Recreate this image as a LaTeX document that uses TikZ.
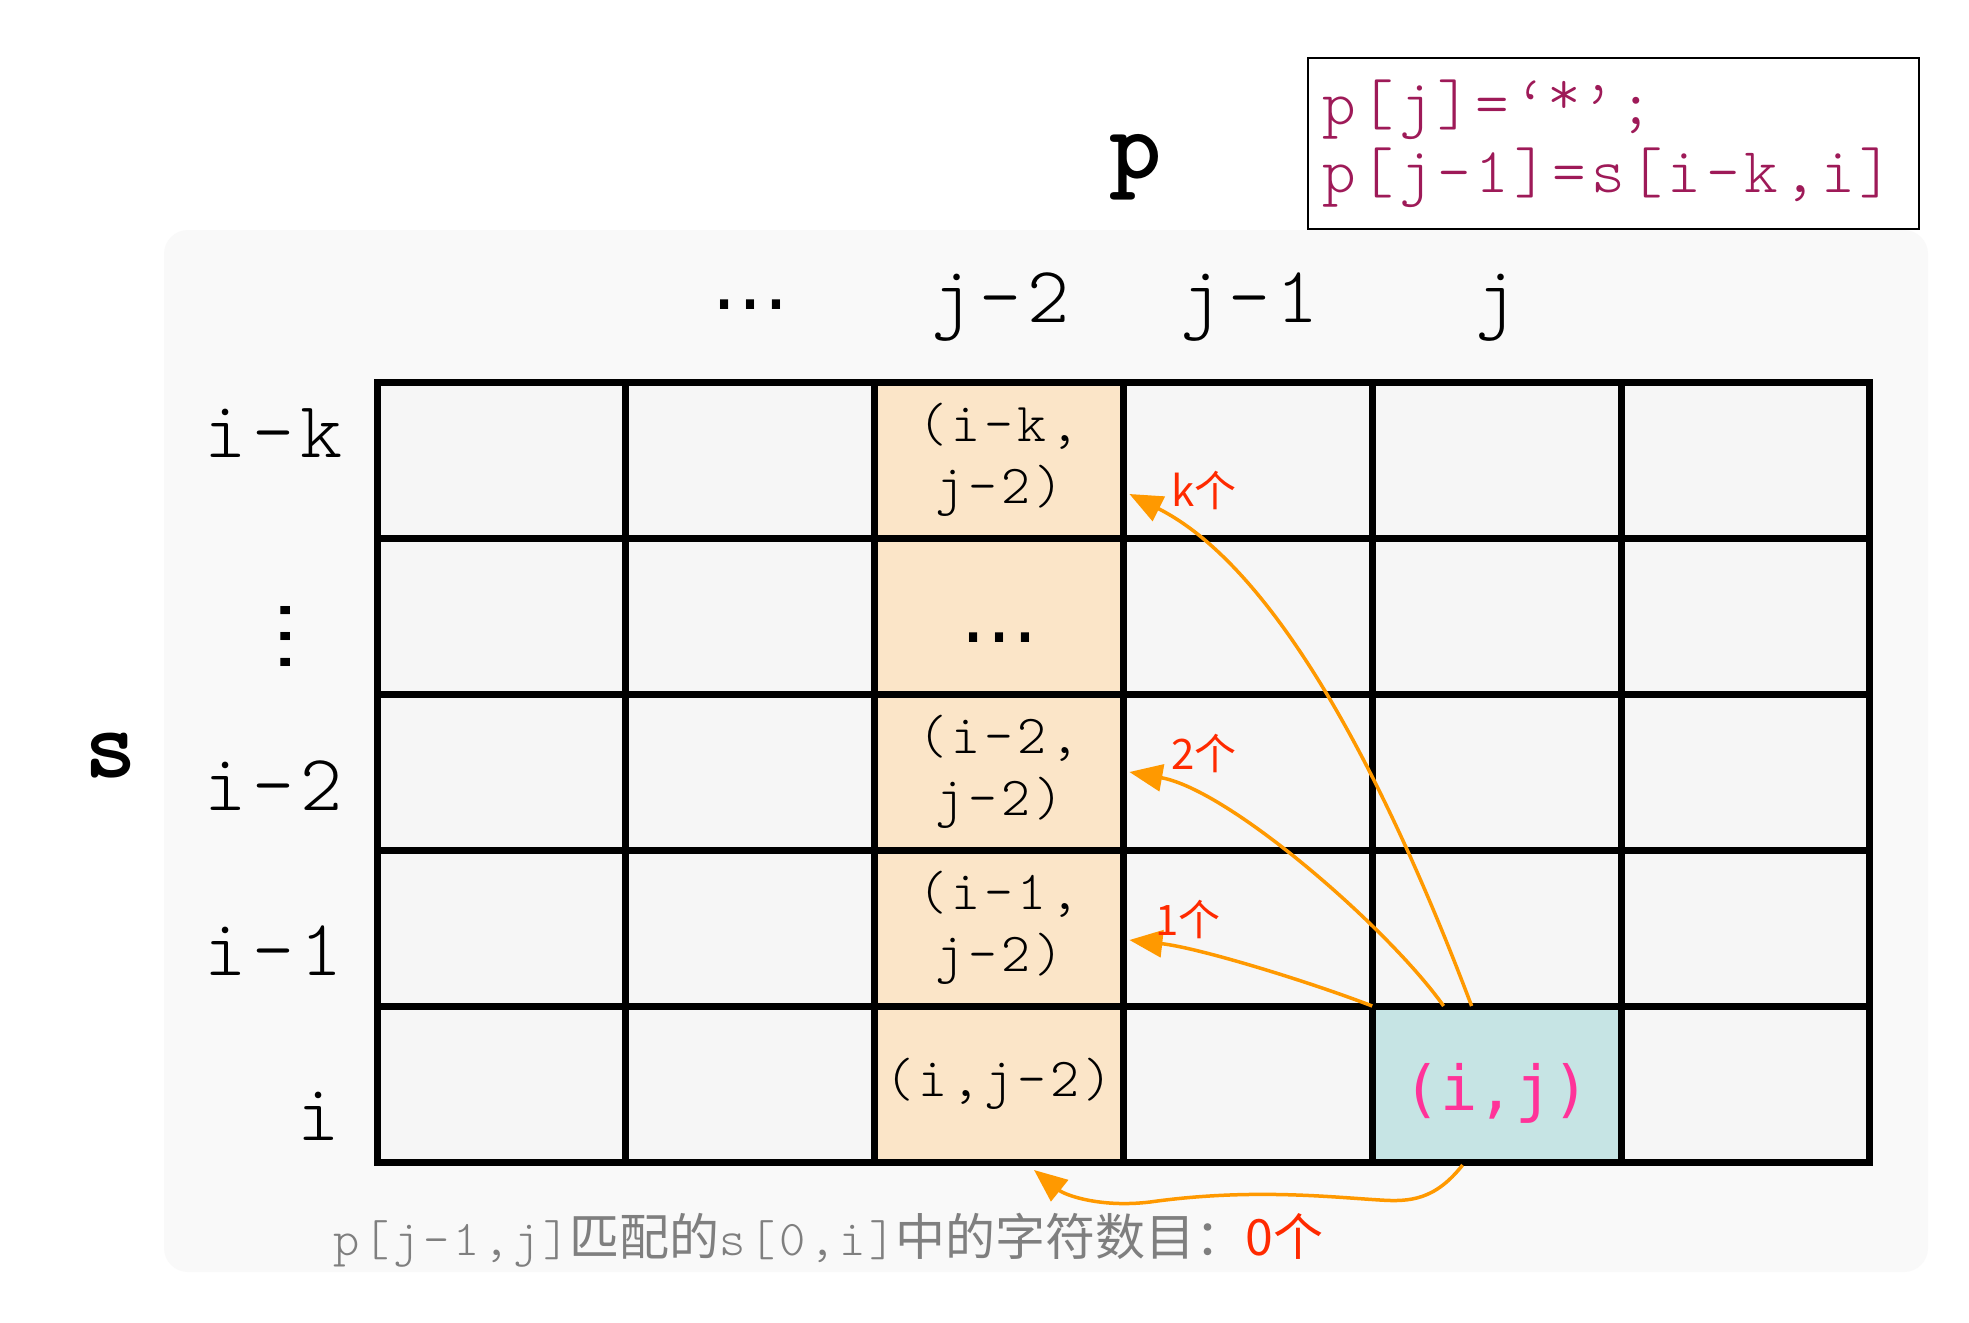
\documentclass[tikz,border=0pt]{standalone}
\usepackage{fontspec}
\usetikzlibrary{calc,arrows.meta}
\newfontfamily\cmono{lmmonolt10-regular}[Extension=.otf,LetterSpace=7.5]
\newfontfamily\cbold{lmmonolt10-bold}[Extension=.otf]
\newfontfamily\dmono{DejaVu Sans Mono}
\newfontfamily\dsans{DejaVu Sans}
\newfontfamily\cjk{Noto Sans CJK SC}
\newcommand{\fsz}[2]{\fontsize{#1}{#2}\selectfont}
\definecolor{panel}{HTML}{F9F9F9}
\definecolor{cellgray}{HTML}{F6F6F6}
\definecolor{peach}{HTML}{FBE5C8}
\definecolor{ijcol}{HTML}{C6E4E4}
\definecolor{pinkt}{HTML}{FF3399}
\definecolor{codered}{HTML}{9E1A58}
\definecolor{arrorange}{HTML}{FF9900}
\definecolor{lblred}{HTML}{FF2A00}
\definecolor{graytext}{HTML}{7F7F7F}
\begin{document}
\begin{tikzpicture}[x=1pt,y=-1pt,
  cellbox/.style={draw=black,line width=7pt,fill=cellgray,minimum width=248.8pt,minimum height=156pt,inner sep=0pt,outer sep=0pt,align=center,font=\fsz{55}{62}\cmono},
  hdr/.style={font=\fsz{80}{80}\cmono,inner sep=0pt,anchor=base},
  rowlbl/.style={font=\fsz{80}{80}\cmono,inner sep=0pt,anchor=base east},
  dotsty/.style={font=\fsz{78}{78}\dsans,inner sep=0pt},
  axis/.style={font=\fsz{100}{100}\cbold,inner sep=0pt,anchor=base},
  arr/.style={draw=arrorange,line width=3.5pt,-{Triangle[length=33pt,width=27pt]}},
  cnt/.style={font=\fsz{42}{42}\cjk,text=lblred,inner sep=0pt},
]
\fill[white] (0,0) rectangle (1969,1322);
\useasboundingbox (0,0) rectangle (1969,1322);
% panel
\fill[panel,rounded corners=24pt] (164,230) rectangle (1928,1272);
% code box
\node[draw=black,line width=2.5pt,minimum width=611pt,minimum height=171pt,inner sep=0pt,outer sep=0pt,fill=white] (box) at (1613.5,143.5) {};
\node[anchor=west,align=left,inner sep=0pt,font=\fsz{64}{68}\cmono,text=codered] (code) at (1322,144) {p[j]=‘\raisebox{10pt}{*}’;\\p[j-1]=s[i-k,i]};
% axis letters
\node[axis] (plbl) at (1136,178) {p};
\node[axis] (slbl) at (111,777) {s};
% grid
\foreach \rr in {1,...,5}{
  \foreach \cc in {1,...,6}{
    \node[cellbox] (c\rr\cc) at ({377+248.8*(\cc-0.5)},{382+156*(\rr-0.5)}) {};
  }
}
\node[cellbox,fill=peach] (c13) at (c13) {(i-k,\\j-2)};
\node[cellbox,fill=peach] (c23) at (c23) {};
\node[cellbox,fill=peach] (c33) at (c33) {(i-2,\\j-2)};
\node[cellbox,fill=peach] (c43) at (c43) {(i-1,\\j-2)};
\node[cellbox,fill=peach] (c53) at (c53) {(i,j-2)};
\node[cellbox,fill=ijcol] (c55) at (c55) {};
\node[dotsty] (celldots) at ($(c23)+(0,22)$) {…};
\node[inner sep=0pt,font=\fsz{62}{62}\dmono,text=pinkt] (ijtxt) at ($(c55)+(0,9)$) {(i,j)};
% column headers
\node[dotsty] (hdots) at (750.2,305) {…};
\node[hdr] (hj2) at (1000,322) {j-2};
\node[hdr] (hj1) at (1249,322) {j-1};
\node[hdr] (hj) at (1496,322) {j};
% row labels
\node[rowlbl] (rik) at (343,457) {i-k};
\node[dotsty,rotate=90] (vdots) at (286,636) {…};
\node[rowlbl] (ri2) at (343,810) {i-2};
\node[rowlbl] (ri1) at (343,975) {i-1};
\node[rowlbl] (ri) at (340,1140) {i};
% arrow end points
\coordinate (sk) at ($(c55.north)+(-25,0)$);
\coordinate (s2) at ($(c55.north)+(-53,0)$);
\coordinate (s1) at (c55.north west);
\coordinate (s0) at ($(c55.south)+(-34,3)$);
\coordinate (tk) at ($(c13.east)+(6,34)$);
\coordinate (t2) at ($(c33.east)+(6,0)$);
\coordinate (t1) at ($(c43.east)+(6,12)$);
\coordinate (t0) at ($(c53.south)+(35,8)$);
\draw[arr] (sk) .. controls (1390,790) and (1280,570) .. (tk);
\draw[arr] (s2) .. controls (1390,930) and (1230,790) .. (t2);
\draw[arr] (s1) .. controls (1310,982) and (1200,948) .. (t1);
\draw[arr] (s0) .. controls (1435,1200) and (1410,1202) .. (1380,1200)
  .. controls (1330,1197) and (1250,1188) .. (1150,1202)
  .. controls (1100,1208) and (1065,1195) .. (t0);
% counts
\node[cnt] (lk) at (1204,490) {k个};
\node[cnt] (l2) at (1204,753) {2个};
\node[cnt] (l1) at (1188,919) {1个};
% bottom note
\node[anchor=base west,inner sep=0pt,text=graytext] (note) at (333,1255) {{\fsz{50}{50}\cmono p[j-1,j]}{\fsz{50}{50}\cjk 匹配的}{\fsz{50}{50}\cmono s[0,i]}{\fsz{50}{50}\cjk 中的字符数目：\textcolor{lblred}{0个}}};
\end{tikzpicture}
\end{document}
